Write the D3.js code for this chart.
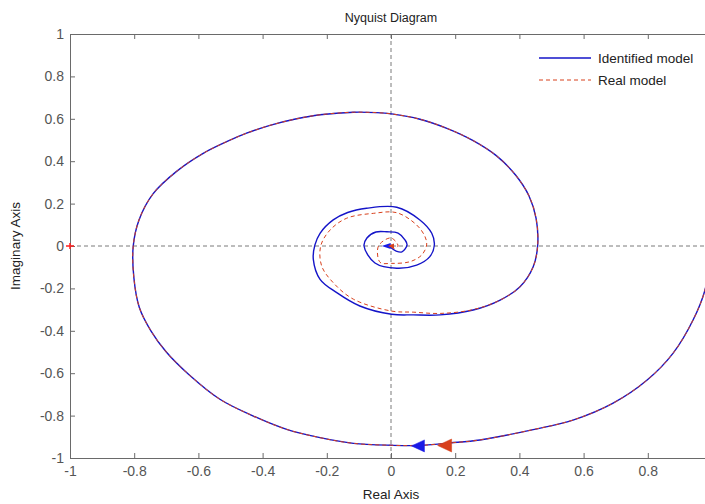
<!DOCTYPE html>
<html>
<head>
<meta charset="utf-8">
<script src="https://cdn.jsdelivr.net/npm/d3@7/dist/d3.min.js"></script>
<style>
  html, body { margin: 0; padding: 0; background: #fff; }
  svg { display: block; }
  text { font-family: "Liberation Sans", Arial, Helvetica, sans-serif; }
</style>
</head>
<body>
<script>
// Frequency response of the identified model (Re, Im) for increasing frequency
const identifiedModel = [
  [1.0, 0.0], [0.978, -0.208], [0.941, -0.349], [0.879, -0.505], [0.798, -0.632],
  [0.692, -0.741], [0.567, -0.821], [0.443, -0.866], [0.277, -0.915], [0.184, -0.929],
  [0.084, -0.941], [0.002, -0.940], [-0.117, -0.931], [-0.221, -0.904], [-0.325, -0.865],
  [-0.429, -0.802], [-0.533, -0.723], [-0.630, -0.606], [-0.700, -0.500], [-0.748, -0.400],
  [-0.784, -0.290], [-0.801, -0.150], [-0.803, 0.0], [-0.785, 0.123], [-0.742, 0.245],
  [-0.668, 0.352], [-0.585, 0.437], [-0.512, 0.492], [-0.450, 0.532], [-0.377, 0.569],
  [-0.294, 0.600], [-0.221, 0.619], [-0.117, 0.631], [-0.045, 0.629], [0.002, 0.623],
  [0.090, 0.598], [0.174, 0.555], [0.256, 0.497], [0.329, 0.425], [0.388, 0.335],
  [0.430, 0.236], [0.452, 0.130], [0.457, 0.005], [0.443, -0.098], [0.402, -0.192],
  [0.340, -0.255], [0.256, -0.302], [0.153, -0.325], [0.069, -0.325], [0.002, -0.322],
  [-0.097, -0.283], [-0.169, -0.220], [-0.221, -0.157], [-0.242, -0.063], [-0.237, 0.005],
  [-0.221, 0.060], [-0.180, 0.123], [-0.135, 0.158], [-0.076, 0.178], [0.018, 0.183],
  [0.090, 0.123], [0.127, 0.060], [0.135, 0.005], [0.121, -0.050], [0.080, -0.090],
  [0.018, -0.105], [-0.050, -0.080], [-0.084, 0.0], [-0.075, 0.038], [-0.047, 0.066],
  [-0.013, 0.067], [0.022, 0.061], [0.044, 0.028], [0.050, 0.005], [0.034, -0.028],
  [0.016, -0.024], [-0.003, -0.005]
];

// Frequency response of the real model (Re, Im)
const realModel = [
  [1.0, 0.0], [0.978, -0.208], [0.941, -0.349], [0.879, -0.505], [0.798, -0.632],
  [0.692, -0.741], [0.567, -0.821], [0.443, -0.866], [0.277, -0.915], [0.184, -0.929],
  [0.084, -0.941], [0.002, -0.940], [-0.117, -0.931], [-0.221, -0.904], [-0.325, -0.865],
  [-0.429, -0.802], [-0.533, -0.723], [-0.630, -0.606], [-0.700, -0.500], [-0.748, -0.400],
  [-0.784, -0.290], [-0.801, -0.150], [-0.803, 0.0], [-0.785, 0.123], [-0.742, 0.245],
  [-0.668, 0.352], [-0.585, 0.437], [-0.512, 0.492], [-0.450, 0.532], [-0.377, 0.569],
  [-0.294, 0.600], [-0.221, 0.619], [-0.117, 0.631], [-0.045, 0.629], [0.002, 0.623],
  [0.090, 0.598], [0.174, 0.555], [0.256, 0.497], [0.329, 0.425], [0.388, 0.335],
  [0.430, 0.236], [0.452, 0.130], [0.457, 0.005], [0.443, -0.098], [0.402, -0.192],
  [0.340, -0.255], [0.256, -0.300], [0.153, -0.318], [0.069, -0.312], [0.002, -0.307],
  [-0.117, -0.251], [-0.180, -0.173], [-0.216, -0.094], [-0.219, 0.0], [-0.190, 0.075],
  [-0.138, 0.131], [-0.055, 0.154], [0.018, 0.157], [0.080, 0.099], [0.106, 0.044],
  [0.111, 0.005], [0.096, -0.042], [0.059, -0.074], [0.002, -0.082], [-0.034, -0.077],
  [-0.039, 0.0], [0.0, 0.038], [0.022, 0.0], [0.008, -0.012], [0.0, 0.0]
];

// Direction arrows placed along each curve
const identifiedArrows = [[0.084, -0.943]];
const realArrows = [[0.167, -0.941]];
const identifiedCenterArrow = [[-0.015, 0.0]];
const realCenterArrow = [[0.0, 0.0]];

// Critical point
const criticalPoint = [[-1, 0]];

const xTicks = [-1, -0.8, -0.6, -0.4, -0.2, 0, 0.2, 0.4, 0.6, 0.8];
const yTicks = [-1, -0.8, -0.6, -0.4, -0.2, 0, 0.2, 0.4, 0.6, 0.8, 1];
const xTickLabels = ["-1", "-0.8", "-0.6", "-0.4", "-0.2", "0", "0.2", "0.4", "0.6", "0.8"];
const yTickLabels = ["-1", "-0.8", "-0.6", "-0.4", "-0.2", "0", "0.2", "0.4", "0.6", "0.8", "1"];

const seriesNames = ["Identified model", "Real model"];

const W = 705, H = 504;
const plot = { left: 70, top: 34, right: 712, bottom: 458 };

const svg = d3.select("body").append("svg").attr("width", W).attr("height", H);

const x = d3.scaleLinear().domain([-1, 1]).range([plot.left, plot.right]);
const y = d3.scaleLinear().domain([-1, 1]).range([plot.bottom, plot.top]);

svg.append("defs").append("clipPath").attr("id", "plotClip")
  .append("rect")
  .attr("x", plot.left).attr("y", plot.top)
  .attr("width", plot.right - plot.left).attr("height", plot.bottom - plot.top);

const axisColor = "#6a6a6a";
const labelColor = "#555";

// Real and imaginary zero lines
const zeroLines = svg.append("g").attr("clip-path", "url(#plotClip)");
zeroLines.append("line")
  .attr("x1", x(-1)).attr("x2", x(1)).attr("y1", y(0)).attr("y2", y(0))
  .attr("stroke", "#7a7a7a").attr("stroke-width", 1).attr("stroke-dasharray", "4,3");
zeroLines.append("line")
  .attr("x1", x(0)).attr("x2", x(0)).attr("y1", y(-1)).attr("y2", y(1))
  .attr("stroke", "#7a7a7a").attr("stroke-width", 1).attr("stroke-dasharray", "4,3");

// Axes with inward ticks
function styleAxis(g) {
  g.selectAll(".domain").attr("stroke", axisColor).attr("stroke-width", 1);
  g.selectAll(".tick line").attr("stroke", axisColor).attr("stroke-width", 1);
  g.selectAll(".tick text").attr("fill", labelColor)
    .style("font-size", "14px").style("font-family", "'Liberation Sans', Arial, sans-serif");
}

svg.append("g").attr("transform", `translate(0,${plot.bottom})`)
  .call(d3.axisBottom(x).tickValues(xTicks).tickFormat((d, i) => xTickLabels[i])
    .tickSizeInner(-5).tickSizeOuter(0).tickPadding(8))
  .call(styleAxis);

svg.append("g").attr("transform", `translate(0,${plot.top})`)
  .call(d3.axisTop(x).tickValues(xTicks).tickFormat("")
    .tickSizeInner(-5).tickSizeOuter(0))
  .call(styleAxis);

svg.append("g").attr("transform", `translate(${plot.left},0)`)
  .call(d3.axisLeft(y).tickValues(yTicks).tickFormat((d, i) => yTickLabels[i])
    .tickSizeInner(-5).tickSizeOuter(0).tickPadding(6))
  .call(styleAxis);

svg.append("g").attr("transform", `translate(${plot.right},0)`)
  .call(d3.axisRight(y).tickValues(yTicks).tickFormat("")
    .tickSizeInner(-5).tickSizeOuter(0))
  .call(styleAxis);

// Curves
const line = d3.line()
  .x(d => x(d[0])).y(d => y(d[1]))
  .curve(d3.curveCatmullRom.alpha(0.5));

const curves = svg.append("g").attr("clip-path", "url(#plotClip)");

const blue = "#1414c8";
const red = "#d8401c";

curves.append("path").datum(identifiedModel)
  .attr("d", line).attr("fill", "none")
  .attr("stroke", blue).attr("stroke-width", 1.4);

curves.append("path").datum(realModel)
  .attr("d", line).attr("fill", "none")
  .attr("stroke", red).attr("stroke-width", 1).attr("stroke-dasharray", "4,3");

// Arrowheads pointing toward increasing frequency (leftwards here)
function arrowPath(len, half) {
  return `M${-len / 2},0 L${len / 2},${-half} L${len / 2},${half} Z`;
}
curves.selectAll(".arrow-id").data(identifiedArrows).join("path")
  .attr("d", arrowPath(13, 6))
  .attr("transform", d => `translate(${x(d[0])},${y(d[1])})`)
  .attr("fill", "#1a1ae6").attr("stroke", "#1a1ae6").attr("stroke-width", 0.5);
curves.selectAll(".arrow-real").data(realArrows).join("path")
  .attr("d", arrowPath(14, 6.5))
  .attr("transform", d => `translate(${x(d[0])},${y(d[1])})`)
  .attr("fill", red).attr("stroke", red).attr("stroke-width", 0.5);
curves.selectAll(".arrow-id-c").data(identifiedCenterArrow).join("path")
  .attr("d", arrowPath(9, 3))
  .attr("transform", d => `translate(${x(d[0])},${y(d[1])})`)
  .attr("fill", "#1a1ae6");
curves.selectAll(".arrow-real-c").data(realCenterArrow).join("path")
  .attr("d", arrowPath(6, 2.5))
  .attr("transform", d => `translate(${x(d[0])},${y(d[1])})`)
  .attr("fill", red);

// Critical point marker
svg.selectAll(".crit").data(criticalPoint).join("path")
  .attr("d", d => {
    const cx = x(d[0]), cy = y(d[1]);
    return `M${cx - 4},${cy} L${cx + 4},${cy} M${cx},${cy - 3} L${cx},${cy + 3}`;
  })
  .attr("stroke", "#ff2020").attr("stroke-width", 1.5).attr("fill", "none");

// Title and axis labels
svg.append("text").attr("x", x(0)).attr("y", 22)
  .attr("text-anchor", "middle").attr("fill", "#222")
  .style("font-size", "12.5px").text("Nyquist Diagram");

svg.append("text").attr("x", x(0)).attr("y", 499)
  .attr("text-anchor", "middle").attr("fill", "#222")
  .style("font-size", "13.5px").text("Real Axis");

svg.append("text")
  .attr("transform", `translate(19.5,${y(0)}) rotate(-90)`)
  .attr("text-anchor", "middle").attr("fill", "#222")
  .style("font-size", "13.5px").text("Imaginary Axis");

// Legend
const legend = svg.append("g");
const legendRows = [
  { name: seriesNames[0], color: blue, dash: null, width: 1.4, y: 58 },
  { name: seriesNames[1], color: red, dash: "4,3", width: 1, y: 80 }
];
legendRows.forEach(r => {
  legend.append("line")
    .attr("x1", 539).attr("x2", 591).attr("y1", r.y).attr("y2", r.y)
    .attr("stroke", r.color).attr("stroke-width", r.width)
    .attr("stroke-dasharray", r.dash);
  legend.append("text")
    .attr("x", 598).attr("y", r.y).attr("dy", "0.35em")
    .attr("fill", "#222").style("font-size", "13.5px").text(r.name);
});
</script>
</body>
</html>
